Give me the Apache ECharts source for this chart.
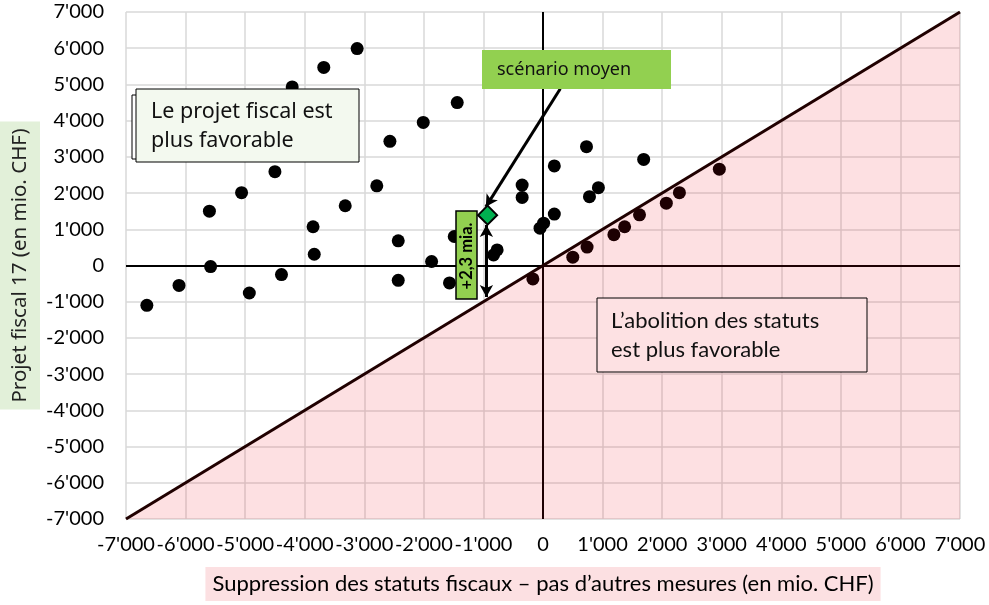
<!DOCTYPE html>
<html><head><meta charset="utf-8">
<script src="https://cdn.jsdelivr.net/npm/echarts@6/dist/echarts.min.js"></script>
<style>html,body{margin:0;padding:0;background:#fff}#c{width:989px;height:605px}</style>
</head><body><div id="c"></div>
<script>
// Suppression des statuts fiscaux (x) vs Projet fiscal 17 (y), en mio. CHF
const supprStatuts = [-6650,-6110,-5600,-5580,-5060,-4930,-4500,-4210,-4390,-3680,-3120,-3320,-3860,-3840,-2790,-2570,-2430,-2430,-2010,-1440,-1870,-1570,-1490,-770,-830,-350,-350,-170,190,190,10,-50,730,930,780,1690,500,740,1190,1370,1620,2070,2290,2960];
const projetFiscal = [-1100,-550,1500,-30,2010,-760,2590,4930,-250,5470,5990,1650,1070,310,2200,3430,680,-410,3950,4500,110,-480,800,430,290,2220,1880,-370,2750,1420,1170,1030,3280,2150,1900,2930,230,510,850,1070,1400,1720,2010,2660];
const scenarioMoyen = [-930, 1390];
const diagonaleX = [-7000, 7000];
const diagonaleY = [-7000, 7000];
const axisMin = -7000, axisMax = 7000, axisStep = 1000;
const ecartArrowX = -950, ecartArrowTop = 1120, ecartArrowBottom = -870;
const scenarioArrowFrom = [290, 4880], scenarioArrowTo = [-960, 1620];
const labels = {
  xTitle: 'Suppression des statuts fiscaux – pas d’autres mesures (en mio. CHF)',
  yTitle: 'Projet fiscal 17 (en mio. CHF)',
  projet: 'Le projet fiscal est\nplus favorable',
  abolition: 'L’abolition des statuts\nest plus favorable',
  scenario: 'scénario moyen',
  ecart: '+2,3 mia.'
};

const points = supprStatuts.map((x, i) => [x, projetFiscal[i]]);
const diag = diagonaleX.map((x, i) => [x, diagonaleY[i]]);
const fmt = v => (v < 0 ? '-' : '') + String(Math.abs(v)).replace(/\B(?=(\d{3})+(?!\d))/g, "'");

const chart = echarts.init(document.getElementById('c'), null, {renderer: 'canvas'});
const axisCommon = {
  type: 'value', min: axisMin, max: axisMax, interval: axisStep,
  axisLine: {show: false}, axisTick: {show: false},
  splitLine: {show: true, lineStyle: {color: '#D9D9D9', width: 1.5}},
  axisLabel: {formatter: fmt, fontFamily: 'Lato', fontSize: 20, color: '#000', showMinLabel: true, showMaxLabel: true, hideOverlap: false}
};
chart.setOption({
  animation: false,
  grid: {left: 126, right: 29, top: 12, bottom: 86, containLabel: false, outerBoundsMode: 'none'},
  xAxis: Object.assign({}, axisCommon, {
    axisLabel: Object.assign({}, axisCommon.axisLabel, {margin: 16}),
    name: labels.xTitle, nameLocation: 'middle', nameGap: 48, nameMoveOverlap: false,
    nameTextStyle: {fontFamily: 'Lato', fontSize: 22, color: '#000', backgroundColor: '#FCE0E2', padding: [6, 7, 6, 7]}
  }),
  yAxis: Object.assign({}, axisCommon, {
    axisLabel: Object.assign({}, axisCommon.axisLabel, {margin: 22}),
    name: labels.yTitle, nameLocation: 'middle', nameGap: 86, nameRotate: 90, nameMoveOverlap: false,
    nameTextStyle: {fontFamily: 'Noto Sans', fontSize: 20.5, color: '#222', backgroundColor: '#E2F0D9', padding: [10, 7, 9, 7]}
  }),
  series: [
    {
      type: 'scatter', data: points, symbolSize: 13, z: 2,
      itemStyle: {color: '#000', opacity: 1},
      markLine: {
        silent: true, symbol: 'none', label: {show: false},
        lineStyle: {color: '#000', width: 2, type: 'solid'},
        data: [{xAxis: 0}, {yAxis: 0}]
      }
    },
    {
      type: 'line', data: diag, symbol: 'none', z: 5,
      lineStyle: {width: 0},
      areaStyle: {color: 'rgba(240,0,20,0.12)', origin: 'start', opacity: 1}
    },
    {
      type: 'line', data: diag, symbol: 'none', z: 6,
      lineStyle: {color: '#200000', width: 3}
    },
    {
      type: 'scatter', data: [scenarioMoyen], symbol: 'diamond', symbolSize: 19, z: 8,
      itemStyle: {color: '#00B050', borderColor: '#000', borderWidth: 2, opacity: 1}
    },
    {
      type: 'line', data: [], z: 9,
      markLine: {
        silent: true, label: {show: false},
        symbol: ['none', 'arrow'], symbolSize: [10, 12],
        lineStyle: {color: '#000', width: 3, type: 'solid'},
        data: [
          [{coord: scenarioArrowFrom}, {coord: scenarioArrowTo}],
          [{coord: [ecartArrowX, ecartArrowTop], symbol: 'arrow'}, {coord: [ecartArrowX, ecartArrowBottom], symbol: 'arrow'}]
        ]
      }
    }
  ],
  graphic: [
    {type: 'rect', shape: {x: 132, y: 95, width: 12, height: 64}, style: {fill: '#fff', stroke: '#000', lineWidth: 1}, z: 100},
    {type: 'rect', shape: {x: 136, y: 89, width: 223, height: 73}, style: {fill: '#F3F9EF', stroke: '#000', lineWidth: 1}, z: 101},
    {type: 'text', x: 151, y: 126, z: 102, style: {text: labels.projet, font: '21.5px "Noto Sans"', fill: '#111', lineHeight: 29, verticalAlign: 'middle'}},
    {type: 'rect', shape: {x: 597, y: 298, width: 270, height: 74}, style: {fill: '#FDE1E3', stroke: '#000', lineWidth: 1}, z: 101},
    {type: 'text', x: 611, y: 335, z: 102, style: {text: labels.abolition, font: '22px Lato', fill: '#111', lineHeight: 29, verticalAlign: 'middle'}},
    {type: 'rect', shape: {x: 482, y: 50, width: 189, height: 39}, style: {fill: '#92D050'}, z: 101},
    {type: 'text', x: 497, y: 70, z: 102, style: {text: labels.scenario, font: '18px "Noto Sans"', fill: '#111', verticalAlign: 'middle'}},
    {type: 'rect', shape: {x: 456, y: 211, width: 21, height: 88}, style: {fill: '#92D050', stroke: '#000', lineWidth: 1.5}, z: 101},
    {type: 'text', x: 467, y: 256, rotation: Math.PI / 2, z: 102, style: {text: labels.ecart, font: 'bold 16.5px Lato', fill: '#000', align: 'center', verticalAlign: 'middle'}}
  ]
});
</script></body></html>
